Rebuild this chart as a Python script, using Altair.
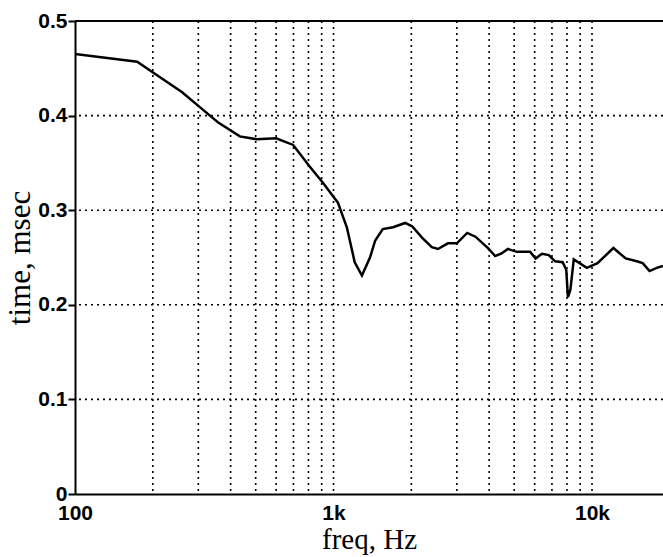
import altair as alt
import pandas as pd

freq = [100, 174, 199, 259, 304, 357, 434, 505, 600, 698, 810, 910, 1040, 1126,
        1208, 1288, 1384, 1450, 1551, 1700, 1893, 2014, 2200, 2400, 2536, 2770,
        3000, 3290, 3540, 3960, 4220, 4450, 4730, 5120, 5760, 6050, 6400, 6800,
        7200, 7700, 7950, 8070, 8250, 8500, 9550, 10500, 12100, 13500, 14900,
        15700, 16700, 17800, 18800]
time_ms = [0.465, 0.457, 0.446, 0.425, 0.409, 0.393, 0.378, 0.375, 0.376, 0.369,
           0.346, 0.329, 0.308, 0.282, 0.245, 0.231, 0.250, 0.268, 0.280, 0.282,
           0.2865, 0.283, 0.271, 0.261, 0.259, 0.265, 0.265, 0.276, 0.272, 0.260,
           0.2516, 0.254, 0.259, 0.256, 0.256, 0.249, 0.254, 0.2526, 0.246, 0.245,
           0.237, 0.208, 0.216, 0.248, 0.239, 0.244, 0.260, 0.249, 0.246, 0.244,
           0.2357, 0.239, 0.241]

x_grid = [200, 300, 400, 500, 600, 700, 800, 900, 1000,
          2000, 3000, 4000, 5000, 6000, 7000, 8000, 9000, 10000]
y_grid = [0.1, 0.2, 0.3, 0.4]
x_ticks = [100, 1000, 10000]
y_ticks = [0, 0.1, 0.2, 0.3, 0.4, 0.5]

df = pd.DataFrame({"f": freq, "t": time_ms})
xg = pd.DataFrame({"f": x_grid})
yg = pd.DataFrame({"t": y_grid})

xscale = alt.Scale(type="log", domain=[100, 18820], nice=False)
yscale = alt.Scale(domain=[0, 0.5], nice=False)

xaxis = alt.Axis(values=x_ticks, grid=False, tickSize=0, labelPadding=8,
                 labelExpr="datum.value == 100 ? '100' : (datum.value == 1000 ? '1k' : '10k')",
                 labelFont="Liberation Sans", labelFontWeight="bold", labelFontSize=21,
                 labelColor="black", domainColor="black", domainWidth=2,
                 title="freq, Hz", titleFont="Liberation Serif", titleFontWeight="normal",
                 titleFontSize=29, titleColor="black", titlePadding=2, labelFlush=False,
                 labelOverlap=False)
yaxis = alt.Axis(values=y_ticks, grid=False, tickSize=7, tickWidth=2, tickColor="black",
                 labelPadding=1,
                 labelExpr="datum.value == 0 ? '0' : format(datum.value, '.1f')",
                 labelFont="Liberation Sans", labelFontWeight="bold", labelFontSize=21,
                 labelColor="black", domainColor="black", domainWidth=2,
                 title="time, msec", titleFont="Liberation Serif", titleFontWeight="normal",
                 titleFontSize=31, titleColor="black", titlePadding=1, labelFlush=False,
                 labelOverlap=False)

base = alt.Chart(df)

line = base.mark_line(color="black", strokeWidth=2.5, clip=True).encode(
    x=alt.X("f:Q", scale=xscale, axis=xaxis),
    y=alt.Y("t:Q", scale=yscale, axis=yaxis),
)

vgrid = alt.Chart(xg).mark_rule(color="black", strokeWidth=1.6, strokeDash=[2, 4]).encode(
    x=alt.X("f:Q", scale=xscale)
)
hgrid = alt.Chart(yg).mark_rule(color="black", strokeWidth=1.6, strokeDash=[2, 4]).encode(
    y=alt.Y("t:Q", scale=yscale)
)
top = alt.Chart(df).mark_rule(color="black", strokeWidth=2).encode(
    y=alt.datum(0.5, scale=yscale)
)

chart = alt.layer(vgrid, hgrid, top, line).properties(
    width=588, height=473,
    autosize=alt.AutoSizeParams(type="none"),
    padding={"left": 75, "top": 21, "right": 0, "bottom": 63},
    background="white",
).configure_view(stroke=None)

chart.save("out.html", embed_options={"renderer": "svg", "actions": False})
